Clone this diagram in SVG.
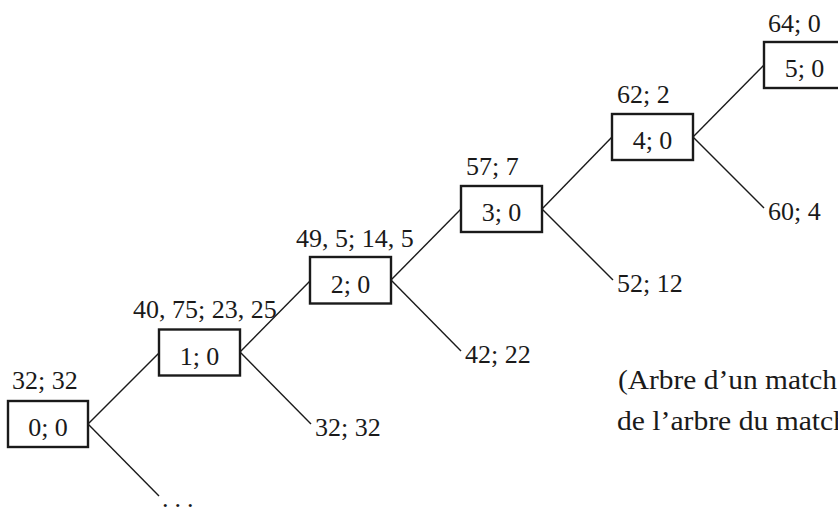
<svg xmlns="http://www.w3.org/2000/svg" width="838" height="508" viewBox="0 0 838 508">
<style>
  .bg { fill: #ffffff; }
  .box { fill: #ffffff; stroke: #1a1a1a; stroke-width: 2.4; }
  .edge { stroke: #1a1a1a; stroke-width: 1.4; fill: none; }
  text { font-family: "Liberation Serif", "DejaVu Serif", serif; font-size: 26px; fill: #1a1a1a; }
  .mid { text-anchor: middle; }
  .cap { font-size: 27px; }
</style>
<rect class="bg" x="0" y="0" width="838" height="508"/>
<g id="connectors">
  <line class="edge" x1="88" y1="424" x2="159" y2="353"/>
  <line class="edge" x1="88" y1="424" x2="159" y2="496"/>
  <line class="edge" x1="240" y1="352" x2="310" y2="281"/>
  <line class="edge" x1="240" y1="352" x2="311" y2="424"/>
  <line class="edge" x1="391" y1="280" x2="461" y2="209"/>
  <line class="edge" x1="391" y1="280" x2="461" y2="351"/>
  <line class="edge" x1="542" y1="209" x2="612" y2="137"/>
  <line class="edge" x1="542" y1="209" x2="613" y2="280"/>
  <line class="edge" x1="693" y1="137" x2="764" y2="65"/>
  <line class="edge" x1="693" y1="137" x2="764" y2="208"/>
</g>
<g id="node0">
  <rect class="box" x="8" y="401" width="80" height="46"/>
  <text class="mid" x="48" y="436">0; 0</text>
  <text x="12" y="389">32; 32</text>
</g>
<g id="node1">
  <rect class="box" x="159" y="329.5" width="81" height="46"/>
  <text class="mid" x="199.5" y="364.5">1; 0</text>
  <text x="133" y="318">40, 75; 23, 25</text>
</g>
<g id="node2">
  <rect class="box" x="310" y="257" width="81" height="46.5"/>
  <text class="mid" x="350.5" y="292.5">2; 0</text>
  <text x="296" y="247">49, 5; 14, 5</text>
</g>
<g id="node3">
  <rect class="box" x="461" y="186" width="81" height="46"/>
  <text class="mid" x="501.5" y="221">3; 0</text>
  <text x="466" y="175">57; 7</text>
</g>
<g id="node4">
  <rect class="box" x="612" y="114" width="81" height="46"/>
  <text class="mid" x="652.5" y="149">4; 0</text>
  <text x="617" y="103">62; 2</text>
</g>
<g id="node5">
  <rect class="box" x="764" y="42" width="81" height="46"/>
  <text class="mid" x="804.5" y="77">5; 0</text>
  <text x="768" y="32">64; 0</text>
</g>
<g id="leaves">
  <text x="162" y="507" letter-spacing="6">...</text>
  <text x="315" y="436">32; 32</text>
  <text x="465" y="363">42; 22</text>
  <text x="617" y="292">52; 12</text>
  <text x="768" y="220">60; 4</text>
</g>
<g id="caption">
  <text class="cap" x="618" y="389" textLength="219" lengthAdjust="spacingAndGlyphs">(Arbre d’un match</text>
  <text class="cap" x="617" y="430" textLength="231" lengthAdjust="spacingAndGlyphs">de l’arbre du match</text>
</g>
</svg>
